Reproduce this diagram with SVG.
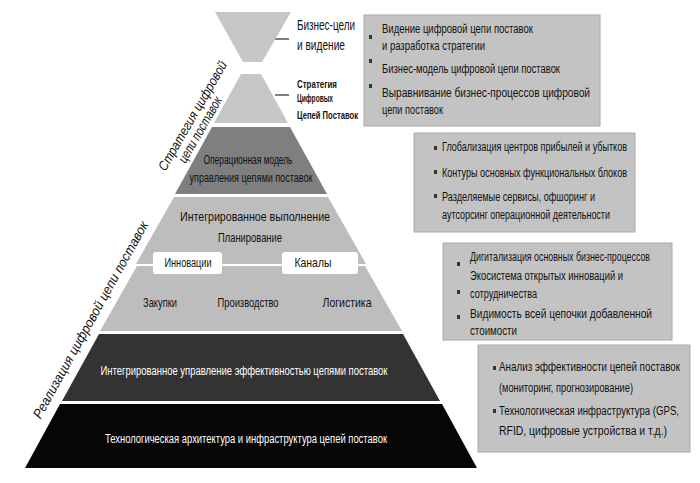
<svg xmlns="http://www.w3.org/2000/svg" width="700" height="483" viewBox="0 0 700 483">
<style>
.t{font-family:"Liberation Sans Narrow","Arial Narrow","Liberation Sans",sans-serif;font-size:12.5px;fill:#111}
.w{fill:#fff}
.c{text-anchor:middle}
.b{font-weight:bold;font-size:11px}
.it{font-style:italic;font-size:13.5px;text-anchor:middle}
.box{fill:#c3c3c3;stroke:#a9a9a9;stroke-width:1}
.bul{fill:#333}
.lt{fill:#c6c6c6}
</style>
<rect width="700" height="483" fill="#fff"/>
<g id="connectors">
<line x1="275" y1="39" x2="289" y2="39" stroke="#000" stroke-width="1"/>
<line x1="275" y1="95" x2="289" y2="95" stroke="#000" stroke-width="1"/>
</g>
<g id="business-goals">
<polygon class="lt" points="215,12 291,12 262,62 243,62"/>
<text class="t" x="297" y="30" style="font-size:14px" textLength="58" lengthAdjust="spacingAndGlyphs">Бизнес-цели</text>
<text class="t" x="297" y="50" style="font-size:14px" textLength="48" lengthAdjust="spacingAndGlyphs">и видение</text>
</g>
<g id="strategy">
<polygon class="lt" points="241,74 261,74 288,123 214,123"/>
<text class="t b" x="297" y="88" textLength="40" lengthAdjust="spacingAndGlyphs">Стратегия</text>
<text class="t b" x="297" y="102" textLength="36" lengthAdjust="spacingAndGlyphs">Цифровых</text>
<text class="t b" x="297" y="119" textLength="61" lengthAdjust="spacingAndGlyphs">Цепей Поставок</text>
</g>
<g id="operating-model">
<polygon fill="#7f7f7f" points="212,127 290,127 327,194 175,194"/>
<text class="t c" x="248" y="164" textLength="89" lengthAdjust="spacingAndGlyphs">Операционная модель</text>
<text class="t c" x="251" y="182" textLength="123" lengthAdjust="spacingAndGlyphs">управления цепями поставок</text>
</g>
<g id="integrated-execution">
<polygon fill="#bdbdbd" points="174,197 328,197 366,264 136,264"/>
<polygon fill="#bdbdbd" points="137,266 365,266 402,331 100,331"/>
<text class="t c" x="255" y="221" style="font-size:13px" textLength="150" lengthAdjust="spacingAndGlyphs">Интегрированное выполнение</text>
<text class="t c" x="250" y="242" style="font-size:13px" textLength="64" lengthAdjust="spacingAndGlyphs">Планирование</text>
<rect x="153" y="252" width="69" height="22" rx="3" fill="#fff"/>
<rect x="282" y="252" width="76" height="22" rx="3" fill="#fff"/>
<text class="t c" x="188" y="267" textLength="47" lengthAdjust="spacingAndGlyphs">Инновации</text>
<text class="t c" x="313" y="267" style="font-size:13px" textLength="37" lengthAdjust="spacingAndGlyphs">Каналы</text>
<text class="t c" x="160" y="307" style="font-size:13px" textLength="34" lengthAdjust="spacingAndGlyphs">Закупки</text>
<text class="t c" x="248" y="307" style="font-size:13px" textLength="61" lengthAdjust="spacingAndGlyphs">Производство</text>
<text class="t c" x="347" y="307" style="font-size:13px" textLength="49" lengthAdjust="spacingAndGlyphs">Логистика</text>
</g>
<g id="performance-management">
<polygon fill="#333" points="99,334 403,334 440,401 62,401"/>
<text class="t w c" x="244" y="375" textLength="287" lengthAdjust="spacingAndGlyphs">Интегрированное управление эффективностью цепями поставок</text>
</g>
<g id="tech-architecture">
<polygon fill="#060606" points="60,404 442,404 477,468 25,468"/>
<text class="t w c" x="246" y="443" textLength="282" lengthAdjust="spacingAndGlyphs">Технологическая архитектура и инфраструктура цепей поставок</text>
</g>
<g id="side-labels">
<text class="t it" transform="translate(196.5,118) rotate(-60)" textLength="124" lengthAdjust="spacingAndGlyphs">Стратегия  цифровой</text>
<text class="t it" transform="translate(204,132) rotate(-60)" textLength="74" lengthAdjust="spacingAndGlyphs">цепи поставок</text>
<text class="t it" transform="translate(94.5,322) rotate(-61)" textLength="223" lengthAdjust="spacingAndGlyphs">Реализация цифровой цепи поставок</text>
</g>
<g id="box1">
<rect class="box" x="364" y="15" width="236" height="111"/>
<rect class="bul" x="369" y="35" width="3" height="4"/>
<rect class="bul" x="369" y="59" width="3" height="4"/>
<rect class="bul" x="369" y="84" width="3" height="4"/>
<text class="t" x="382" y="33" textLength="151" lengthAdjust="spacingAndGlyphs">Видение цифровой цепи поставок</text>
<text class="t" x="382" y="50" textLength="103" lengthAdjust="spacingAndGlyphs">и разработка стратегии</text>
<text class="t" x="382" y="73" textLength="178" lengthAdjust="spacingAndGlyphs">Бизнес-модель цифровой цепи поставок</text>
<text class="t" x="382" y="97" textLength="208" lengthAdjust="spacingAndGlyphs">Выравнивание бизнес-процессов цифровой</text>
<text class="t" x="382" y="114" textLength="61" lengthAdjust="spacingAndGlyphs">цепи поставок</text>
</g>
<g id="box2">
<rect class="box" x="414" y="133" width="221" height="99"/>
<rect class="bul" x="434" y="146" width="3" height="4"/>
<rect class="bul" x="434" y="170" width="3" height="4"/>
<rect class="bul" x="434" y="194" width="3" height="4"/>
<text class="t" x="442" y="151" textLength="185" lengthAdjust="spacingAndGlyphs">Глобализация центров прибылей и убытков</text>
<text class="t" x="442" y="177" textLength="185" lengthAdjust="spacingAndGlyphs">Контуры основных функциональных блоков</text>
<text class="t" x="442" y="201" textLength="153" lengthAdjust="spacingAndGlyphs">Разделяемые сервисы, офшоринг и</text>
<text class="t" x="442" y="219" textLength="168" lengthAdjust="spacingAndGlyphs">аутсорсинг операционной деятельности</text>
</g>
<g id="box3">
<rect class="box" x="443" y="243" width="229" height="97"/>
<rect class="bul" x="457" y="262" width="3" height="4"/>
<rect class="bul" x="457" y="290" width="3" height="4"/>
<rect class="bul" x="457" y="315" width="3" height="4"/>
<text class="t" x="470" y="261" textLength="180" lengthAdjust="spacingAndGlyphs">Дигитализация основных бизнес-процессов</text>
<text class="t" x="470" y="280" textLength="153" lengthAdjust="spacingAndGlyphs">Экосистема открытых инноваций и</text>
<text class="t" x="470" y="298" textLength="67" lengthAdjust="spacingAndGlyphs">сотрудничества</text>
<text class="t" x="470" y="318" textLength="182" lengthAdjust="spacingAndGlyphs">Видимость всей цепочки добавленной</text>
<text class="t" x="470" y="335" textLength="47" lengthAdjust="spacingAndGlyphs">стоимости</text>
</g>
<g id="box4">
<rect class="box" x="478" y="345" width="212" height="107"/>
<rect class="bul" x="493" y="366" width="3" height="4"/>
<rect class="bul" x="493" y="409" width="3" height="4"/>
<text class="t" x="499" y="371" textLength="181" lengthAdjust="spacingAndGlyphs">Анализ эффективности цепей поставок</text>
<text class="t" x="499" y="392" textLength="134" lengthAdjust="spacingAndGlyphs">(мониторинг, прогнозирование)</text>
<text class="t" x="499" y="415" textLength="180" lengthAdjust="spacingAndGlyphs">Технологическая инфраструктура (GPS,</text>
<text class="t" x="499" y="435" textLength="168" lengthAdjust="spacingAndGlyphs">RFID, цифровые устройства и т.д.)</text>
</g>
</svg>
